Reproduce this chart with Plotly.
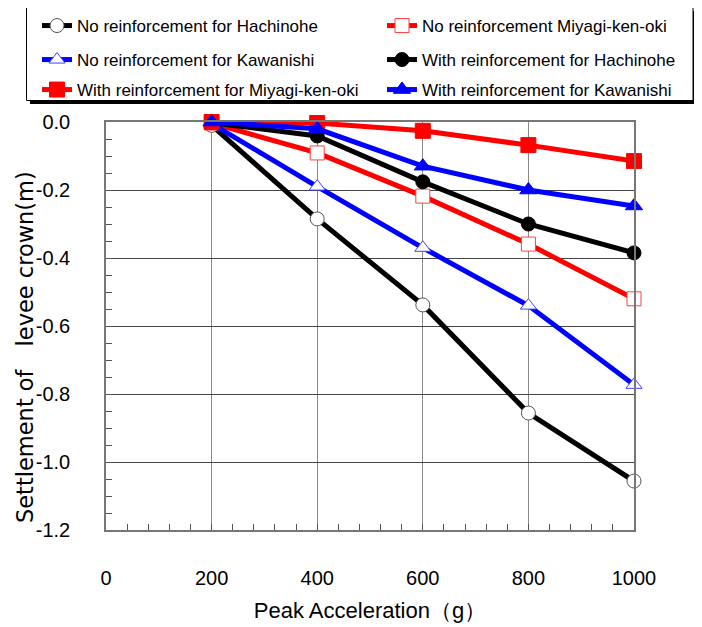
import plotly.graph_objects as go

accel = [200, 400, 600, 800, 1000]
no_hachinohe = [-0.01, -0.285, -0.538, -0.856, -1.056]
no_miyagi = [-0.003, -0.091, -0.218, -0.359, -0.52]
no_kawanishi = [-0.005, -0.19, -0.37, -0.54, -0.773]
with_hachinohe = [-0.002, -0.041, -0.176, -0.30, -0.385]
with_miyagi = [0.0, -0.003, -0.026, -0.068, -0.115]
with_kawanishi = [0.0, -0.02, -0.13, -0.20, -0.247]

x_ticks = [0, 200, 400, 600, 800, 1000]
y_ticks = [0.0, -0.2, -0.4, -0.6, -0.8, -1.0, -1.2]

FONT = "Liberation Sans, Arial, sans-serif"

series = [
    ("No reinforcement for Hachinohe", no_hachinohe, "black", "circle", "white", "#555", 14),
    ("No reinforcement Miyagi-ken-oki", no_miyagi, "red", "square", "white", "#ff4040", 14),
    ("No reinforcement for Kawanishi", no_kawanishi, "blue", "triangle-up", "white", "#4040ff", 14),
    ("With reinforcement for Hachinohe", with_hachinohe, "black", "circle", "black", "black", 14),
    ("With reinforcement for Miyagi-ken-oki", with_miyagi, "red", "square", "red", "red", 15),
    ("With reinforcement for Kawanishi", with_kawanishi, "blue", "triangle-up", "blue", "blue", 15),
]

# page body has an 8px margin; figure is shifted by OFF on screen
OFF = 8
W, H = 702 - OFF, 627 - OFF
# target screen positions of plot area
SX0, SX1, SY0, SY1 = 106, 634, 122, 530
L, R = SX0 - OFF, W - (SX1 - OFF)
T, B = SY0 - OFF, H - (SY1 - OFF)
pw, ph = SX1 - SX0, SY1 - SY0

def px_x(p):  # screen px -> paper
    return (p - SX0) / pw

def px_y(p):
    return (SY1 - p) / ph

# legend slots (left px, row centre px) on screen, reading order
slots = [(37, 26), (382, 26), (37, 60), (382, 60), (37, 90), (382, 90)]

fig = go.Figure()
legends = {}
for i, (name, ys, col, sym, fill, edge, sz) in enumerate(series):
    key = "legend" if i == 0 else "legend%d" % (i + 1)
    fig.add_trace(go.Scatter(
        x=accel, y=ys, name=name, mode="lines+markers",
        line=dict(color=col, width=5),
        marker=dict(symbol=sym, size=sz, color=fill, line=dict(color=edge, width=1)),
        cliponaxis=False, legend=key,
    ))
    lx, ly = slots[i]
    legends[key] = dict(
        orientation="h", x=px_x(lx), y=px_y(ly), xanchor="left", yanchor="middle",
        bgcolor="rgba(0,0,0,0)", borderwidth=0,
        font=dict(family=FONT, size=17, color="black"),
        itemwidth=30,
    )

# legend frame with shadow
fig.add_shape(type="rect", xref="paper", yref="paper",
              x0=px_x(30), x1=px_x(695), y0=px_y(104), y1=px_y(11),
              fillcolor="black", line=dict(width=0), layer="above")
fig.add_shape(type="rect", xref="paper", yref="paper",
              x0=px_x(26.5), x1=px_x(693), y0=px_y(100.5), y1=px_y(7.5),
              fillcolor="white", line=dict(color="black", width=1), layer="above")

# y-axis title as rotated text
fig.add_annotation(
    text="Settlement of\u3000levee crown(m)", textangle=-90,
    xref="paper", yref="paper", x=px_x(25), y=px_y(347),
    xanchor="center", yanchor="middle", showarrow=False,
    font=dict(family="DejaVu Sans", size=22.5, color="black"),
)

fig.update_layout(
    width=W, height=H,
    margin=dict(l=L, r=R, t=T, b=B, autoexpand=False),
    paper_bgcolor="white", plot_bgcolor="white",
    font=dict(family=FONT, color="black"),
    showlegend=True,
    **legends,
    xaxis=dict(
        range=[0, 1000], tickvals=x_ticks, ticktext=[str(v) for v in x_ticks],
        ticks="inside", ticklen=6, tickcolor="#555",
        showgrid=True, gridcolor="#888", gridwidth=1,
        showline=True, linecolor="#777", linewidth=1.5, mirror=True,
        zeroline=False,
        minor=dict(dtick=40, ticks="inside", ticklen=6, tickcolor="#555", showgrid=False),
        tickfont=dict(family=FONT, size=20),
        ticklabelstandoff=29,
        title=dict(text="Peak Acceleration（g）", font=dict(family=FONT, size=22), standoff=15),
    ),
    yaxis=dict(
        range=[-1.2, 0], tickvals=y_ticks, ticktext=["%.1f" % v for v in y_ticks],
        ticks="inside", ticklen=6, tickcolor="#555",
        showgrid=True, gridcolor="#444", gridwidth=1,
        showline=True, linecolor="#777", linewidth=1.5, mirror=True,
        zeroline=False,
        minor=dict(dtick=0.05, ticks="inside", ticklen=6, tickcolor="#555", showgrid=False),
        tickfont=dict(family=FONT, size=20),
        ticklabelstandoff=30,
    ),
)

fig.write_html("out.html")
